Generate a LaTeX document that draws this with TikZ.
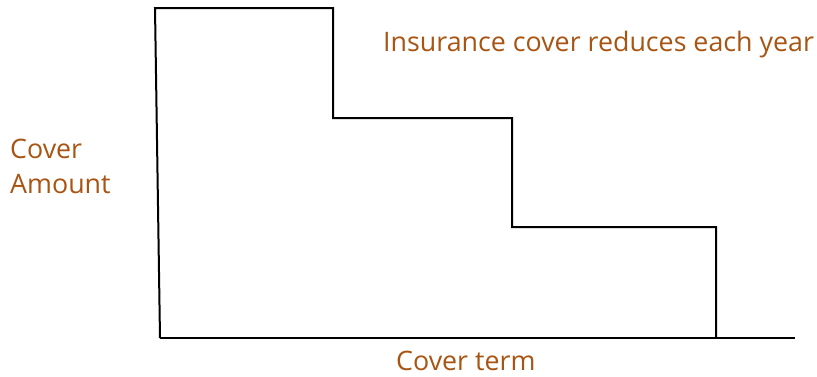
\documentclass[tikz,border=0pt]{standalone}
\usepackage{fontspec}
\setmainfont{Open Sans}
\definecolor{labelbrown}{RGB}{168,84,18}
\begin{document}
\begin{tikzpicture}[x=1pt,y=-1pt,
  lbl/.style={text=labelbrown,font=\fontsize{26.8}{32}\selectfont,inner sep=0pt,anchor=base west},
  stepline/.style={draw=black,line width=2pt,line join=miter}]
\useasboundingbox (0,0) rectangle (817,376);
\coordinate (tl) at (155,8);
\coordinate (t1) at (333,8);
\coordinate (s1) at (333,118);
\coordinate (s1r) at (512,118);
\coordinate (s2) at (512,227);
\coordinate (s2r) at (716,227);
\coordinate (s3) at (716,338);
\coordinate (bl) at (160,338);
\coordinate (br) at (795,338);
\draw[stepline] (bl) -- (tl) -- (t1) -- (s1) -- (s1r) -- (s2) -- (s2r) -- (s3);
\draw[stepline] (bl) -- (br);
\node[lbl] (title) at (383,51) {Insurance cover reduces each year};
\node[lbl] (ylab1) at (10,158) {Cover};
\node[lbl] (ylab2) at (10,193) {Amount};
\node[lbl] (xlab) at (396,370) {Cover term};
\end{tikzpicture}
\end{document}
